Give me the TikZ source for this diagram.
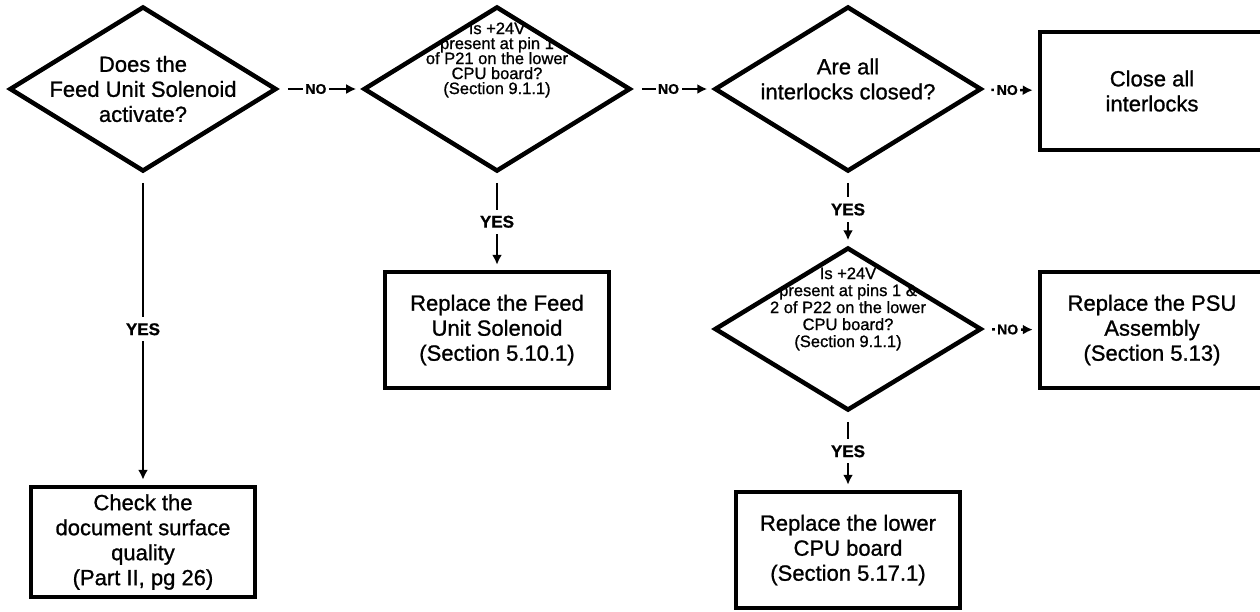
\documentclass[tikz,border=0pt]{standalone}
\usepackage{fontspec}
\setmainfont{Liberation Sans}[FakeBold=1]
\newfontfamily\inkfont{Liberation Sans}[FakeBold=1]
\usepackage{tikz}
\usetikzlibrary{shapes.geometric, arrows.meta}
\newcommand\mainsize{\inkfont\fontsize{22pt}{25pt}\selectfont}
\newcommand\notesize{\inkfont\fontsize{16.5pt}{17pt}\selectfont}
\tikzstyle{decision} = [diamond, minimum width=267pt, minimum height=165pt, inner sep=0pt, draw=black, line width=4.5pt]
\tikzstyle{question} = [align=center, font=\mainsize]
\tikzstyle{process} = [rectangle, minimum width=224pt, minimum height=116pt, align=center, font=\mainsize, draw=black, line width=4.5pt]
\tikzstyle{arrow} = [line width=2.5pt, shorten <=9pt, shorten >=5pt, -{Latex[length=10pt,width=10pt]}]
\tikzstyle{yes} = [fill=white, inner xsep=2pt, inner ysep=6pt, font=\fontsize{17pt}{17pt}\selectfont\bfseries]
\tikzstyle{no} = [fill=white, inner sep=2.5pt, pos=0.45, font=\fontsize{14pt}{14pt}\selectfont\bfseries]

\begin{document}
\begin{tikzpicture}[x=1pt, y=-1pt]
   \useasboundingbox (0,0) rectangle (1260,611);
   % first row of questions
   \node (d1) [decision] at (143,89) {};
   \node (q1) [question] at (d1) {Does the\\Feed Unit Solenoid\\activate?};
   \node (d2) [decision] at (497,89) {};
   \node (q2) [question, font=\notesize, yshift=29pt] at (d2) {Is +24V\\[-2pt]present at pin 1\\[-2pt]of P21 on the lower\\[-2pt]CPU board?\\[-2pt](Section 9.1.1)};
   \node (d3) [decision] at (848,89) {};
   \node (q3) [question, yshift=10pt] at (d3) {Are all\\interlocks closed?};
   \node (close) [process, minimum height=118pt] at (1152,91) {Close all\\interlocks};
   % second row
   \node (feed) [process] at (497,330) {Replace the Feed\\Unit Solenoid\\(Section 5.10.1)};
   \node (d4) [decision, minimum height=163pt] at (848,329) {};
   \node (q4) [question, font=\notesize, yshift=20pt] at (d4) {Is +24V\\present at pins 1 \&\\2 of P22 on the lower\\CPU board?\\(Section 9.1.1)};
   \node (psu) [process] at (1152,330) {Replace the PSU\\Assembly\\(Section 5.13)};
   % last actions
   \node (check) [process, minimum height=110pt] at (143,542) {Check the\\document surface\\quality\\(Part II, pg 26)};
   \node (cpu) [process] at (848,550) {Replace the lower\\CPU board\\(Section 5.17.1)};

   \draw [arrow] (d1) -- node[no] (n1) {NO} (d2);
   \draw [arrow] (d2) -- node[no] (n2) {NO} (d3);
   \draw [arrow] (d3) -- node[no] (n3) {NO} (close);
   \draw [arrow] (d4) -- node[no] (n4) {NO} (psu);
   \draw [arrow] (d1) -- node[yes] (y1) {YES} (check);
   \draw [arrow] (d2) -- node[yes] (y2) {YES} (feed);
   \draw [arrow] (d3) -- node[yes] (y3) {YES} (d4);
   \draw [arrow] (d4) -- node[yes] (y4) {YES} (cpu);
\end{tikzpicture}
\end{document}
